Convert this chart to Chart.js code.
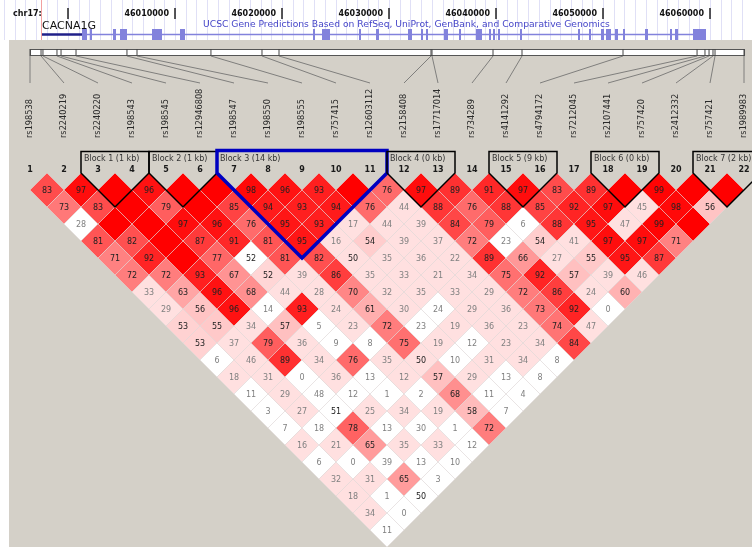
<!DOCTYPE html>
<html>
<head>
<meta charset="utf-8">
<title>CACNA1G LD plot</title>
<script src="https://cdn.jsdelivr.net/npm/chart.js@4.4.1/dist/chart.umd.min.js"></script>
<style>
  html, body { margin: 0; padding: 0; background: #fff; }
  #ld { display: block; }
</style>
</head>
<body>
<canvas id="ld" width="752" height="547"></canvas>
<script>
// ============================================================
// DATA
// ============================================================
const snpNames = ["rs198538", "rs2240219", "rs2240220", "rs198543", "rs198545", "rs12946808",
  "rs198547", "rs198550", "rs198555", "rs757415", "rs12603112", "rs2158408", "rs17717014",
  "rs734289", "rs4141292", "rs4794172", "rs7212045", "rs2107441", "rs757420", "rs2412332",
  "rs757421", "rs1989983"];

// chr17 positions (bp)
const snpPosBp = [45996450, 45997480, 45997660, 45998970, 45999350, 46000750, 46005510,
  46006450, 46013360, 46018130, 46019720, 46033925, 46034020, 46039720, 46042430, 46051870,
  46058790, 46059530, 46059910, 46060280, 46060470, 46063180];

// D' x 100, row i = SNP i against SNP i+1 .. 22
const ldRows = [
  [83, 73, 28, 81, 71, 72, 33, 29, 53, 53, 6, 18, 11, 3, 7, 16, 6, 32, 18, 34, 11],
  [97, 83, 100, 82, 92, 72, 63, 56, 55, 37, 46, 31, 29, 27, 18, 21, 0, 31, 1, 0],
  [100, 100, 100, 100, 100, 93, 96, 96, 34, 79, 89, 0, 48, 51, 78, 65, 39, 65, 50],
  [96, 79, 97, 87, 77, 67, 68, 14, 57, 36, 34, 36, 12, 25, 13, 35, 13, 3],
  [100, 100, 96, 91, 52, 52, 44, 93, 5, 9, 76, 13, 1, 34, 30, 33, 10],
  [100, 85, 76, 81, 81, 39, 28, 24, 23, 8, 35, 12, 2, 19, 1, 12],
  [98, 94, 95, 95, 82, 86, 70, 61, 72, 75, 50, 57, 68, 58, 72],
  [96, 93, 93, 16, 50, 35, 32, 30, 23, 19, 10, 29, 11, 7],
  [93, 94, 17, 54, 35, 33, 35, 24, 19, 12, 31, 13, 4],
  [100, 76, 44, 39, 36, 21, 33, 29, 36, 23, 34, 8],
  [76, 44, 39, 37, 22, 34, 29, 36, 23, 34, 8],
  [97, 88, 84, 72, 89, 75, 72, 73, 74, 84],
  [89, 76, 79, 23, 66, 92, 86, 92, 47],
  [91, 88, 6, 54, 27, 57, 24, 0],
  [97, 85, 88, 41, 55, 39, 60],
  [83, 92, 95, 97, 95, 46],
  [89, 97, 47, 97, 87],
  [100, 45, 99, 71],
  [99, 98, 100],
  [100, 56],
  [100]
];

// pairs with LOD < 2 (drawn white)
const lowLodPairs = [[1, 4], [5, 10], [13, 17], [14, 17], [4, 12], [1, 12], [5, 14], [5, 15],
  [6, 16], [9, 17], [8, 17], [9, 19], [8, 19], [3, 15], [5, 17], [9, 21], [14, 22], [11, 22],
  [10, 22], [1, 14], [1, 15], [1, 16], [3, 16], [3, 17], [2, 17], [4, 17], [1, 18], [2, 19],
  [5, 18], [6, 19], [8, 21], [9, 22], [8, 22], [4, 19], [5, 20], [6, 21], [6, 22], [3, 20],
  [4, 21], [5, 22], [4, 22], [2, 21], [3, 22], [2, 22], [1, 22]];

// haplotype blocks
const blockFirst = [3, 5, 7, 12, 15, 18, 21];
const blockLast = [4, 6, 11, 13, 16, 19, 22];
const blockKb = [1, 1, 14, 0, 9, 0, 2];
const selectedBlock = 2;

// ruler
const rulerTicksBp = [46000000, 46010000, 46020000, 46030000, 46040000, 46050000, 46060000];

// ============================================================
// HELPERS
// ============================================================
const FONT = '"DejaVu Sans", sans-serif';
const lowSet = new Set(lowLodPairs.map(p => p[0] + "-" + p[1]));

function bpToPx(bp) {
  return 68 + (bp - 46000000) * 107 / 10000;
}

function cellColor(v, low) {
  if (low) return "#ffffff";
  if (v < 50) return "rgb(255,224,224)";
  const g = Math.round(446 * (1 - v / 100));
  return `rgb(255,${g},${g})`;
}

// cell (i,j) -> x = i+j, y = j-i
const cells = [];
ldRows.forEach((row, r) => {
  const i = r + 1;
  row.forEach((v, c) => {
    const j = i + 1 + c;
    cells.push({ x: i + j, y: j - i, v: v, low: lowSet.has(i + "-" + j) });
  });
});

function cellHalf(chart) {
  const s = chart.scales.x;
  return Math.abs(s.getPixelForValue(1) - s.getPixelForValue(0));
}

// ============================================================
// HEADER (UCSC track + SNP map)
// ============================================================
function drawHeader(ctx) {
  // light grid
  ctx.strokeStyle = "#e0e0f6";
  ctx.lineWidth = 1;
  for (let bp = 45993000; bp < 46072000; bp += 1000) {
    const x = Math.round(bpToPx(bp)) + 0.5;
    ctx.beginPath(); ctx.moveTo(x, 0); ctx.lineTo(x, 40); ctx.stroke();
  }
  // pink marker
  ctx.strokeStyle = "#f2a0a0";
  ctx.beginPath(); ctx.moveTo(41.5, 0); ctx.lineTo(41.5, 40); ctx.stroke();

  // ruler
  ctx.fillStyle = "#111";
  ctx.font = "bold 8px " + FONT;
  ctx.textBaseline = "middle";
  ctx.textAlign = "left";
  ctx.fillText("chr17:", 13, 14);
  ctx.strokeStyle = "#111";
  ctx.lineWidth = 1.4;
  rulerTicksBp.forEach((bp, k) => {
    const x = bpToPx(bp);
    ctx.beginPath(); ctx.moveTo(x, 8); ctx.lineTo(x, 19); ctx.stroke();
    if (k > 0) {
      ctx.textAlign = "right";
      ctx.fillText(String(bp), x - 6, 14);
    }
  });

  // gene
  ctx.textAlign = "left";
  ctx.textBaseline = "alphabetic";
  ctx.font = "11px " + FONT;
  ctx.fillStyle = "#111";
  ctx.fillText("CACNA1G", 42, 29);
  ctx.font = "9.2px " + FONT;
  ctx.fillStyle = "#4646c8";
  ctx.fillText("UCSC Gene Predictions Based on RefSeq, UniProt, GenBank, and Comparative Genomics", 203, 27);

  ctx.strokeStyle = "#20208a";
  ctx.lineWidth = 2.5;
  ctx.beginPath(); ctx.moveTo(42, 34.5); ctx.lineTo(83, 34.5); ctx.stroke();
  ctx.strokeStyle = "#8282dc";
  ctx.lineWidth = 1.5;
  ctx.beginPath(); ctx.moveTo(83, 34.5); ctx.lineTo(700, 34.5); ctx.stroke();
  const exons = [[82, 87], [90, 92], [113, 116], [120, 127], [152, 162], [180, 185], [313, 315],
    [322, 330], [359, 361], [376, 379], [408, 412], [421, 423], [426, 428], [444, 448],
    [459, 461], [476, 482], [489, 491], [493, 495], [498, 500], [520, 522], [578, 580],
    [589, 591], [601, 604], [606, 611], [615, 618], [623, 625], [645, 648], [670, 672],
    [675, 678], [693, 706]];
  ctx.fillStyle = "#8282dc";
  exons.forEach(e => ctx.fillRect(e[0], 29, Math.max(1.5, e[1] - e[0]), 11));
}

function drawSnpMap(chart) {
  const ctx = chart.ctx;
  const xs = chart.scales.x;
  const x0 = bpToPx(snpPosBp[0]);
  const x1 = bpToPx(snpPosBp[snpPosBp.length - 1]);

  ctx.fillStyle = "#fff";
  ctx.fillRect(x0, 49, x1 - x0, 7);
  ctx.strokeStyle = "#555";
  ctx.lineWidth = 1;
  ctx.strokeRect(x0 + 0.5, 49.5, x1 - x0, 6);

  snpPosBp.forEach((bp, k) => {
    const px = bpToPx(bp);
    const lx = xs.getPixelForValue(2 * (k + 1));
    ctx.strokeStyle = "#444";
    ctx.beginPath(); ctx.moveTo(px, 49); ctx.lineTo(px, 56); ctx.stroke();
    ctx.strokeStyle = "#6a6a6a";
    ctx.lineWidth = 0.8;
    ctx.beginPath(); ctx.moveTo(px, 56); ctx.lineTo(lx, 83); ctx.stroke();
    ctx.lineWidth = 1;

    // name
    ctx.save();
    ctx.translate(lx, 138);
    ctx.rotate(-Math.PI / 2);
    ctx.fillStyle = "#2a2a2a";
    ctx.font = "8.2px " + FONT;
    ctx.textAlign = "left";
    ctx.textBaseline = "middle";
    ctx.fillText(snpNames[k], 0, 0);
    ctx.restore();

    // number
    ctx.fillStyle = "#1a1a1a";
    ctx.font = "bold 8px " + FONT;
    ctx.textAlign = "center";
    ctx.textBaseline = "middle";
    ctx.fillText(String(k + 1), lx, 170);
  });
}

// ============================================================
// PLUGIN
// ============================================================
const haploviewPlugin = {
  id: "haploview",
  beforeDraw(chart) {
    const ctx = chart.ctx;
    ctx.save();
    ctx.fillStyle = "#fff";
    ctx.fillRect(0, 0, chart.width, chart.height);
    ctx.fillStyle = "#d4d0c8";
    ctx.fillRect(9, 40, chart.width - 9, chart.height - 40);
    drawHeader(ctx);
    drawSnpMap(chart);
    ctx.restore();
  },
  afterDatasetsDraw(chart) {
    const ctx = chart.ctx;
    const meta = chart.getDatasetMeta(0);
    ctx.save();
    ctx.font = "8px " + FONT;
    ctx.textAlign = "center";
    ctx.textBaseline = "middle";
    meta.data.forEach((pt, idx) => {
      const c = cells[idx];
      if (c.v >= 100) return;
      ctx.fillStyle = c.v >= 50 ? "#222" : "#808080";
      ctx.fillText(String(c.v), pt.x, pt.y + 0.5);
    });
    ctx.restore();
  },
  afterDraw(chart) {
    const ctx = chart.ctx;
    const xs = chart.scales.x, ys = chart.scales.y;
    const top = ys.getPixelForValue(0);
    ctx.save();
    ctx.lineJoin = "miter";
    blockFirst.forEach((f, b) => {
      const l = blockLast[b];
      const xl = xs.getPixelForValue(2 * f - 1);
      const xr = xs.getPixelForValue(2 * l + 1);
      const xb = xs.getPixelForValue(f + l);
      const yb = ys.getPixelForValue(l - f + 1);
      const sel = b === selectedBlock;
      const yt = sel ? 150.5 : 151.5;
      ctx.strokeStyle = sel ? "#0000c0" : "#000";
      ctx.lineWidth = sel ? 3.5 : 1.5;
      ctx.beginPath();
      ctx.moveTo(xl, yt);
      ctx.lineTo(xr, yt);
      ctx.lineTo(xr, top);
      ctx.lineTo(xb, yb);
      ctx.lineTo(xl, top);
      ctx.closePath();
      ctx.stroke();

      ctx.fillStyle = "#333";
      ctx.font = "8px " + FONT;
      ctx.textAlign = "left";
      ctx.textBaseline = "middle";
      ctx.fillText(`Block ${b + 1} (${blockKb[b]} kb)`, xl + 3, 159);
    });
    ctx.restore();
  }
};

// ============================================================
// CHART
// ============================================================
new Chart(document.getElementById("ld"), {
  type: "scatter",
  data: {
    datasets: [{
      data: cells,
      clip: false,
      pointStyle: "rectRot",
      pointRadius: c => cellHalf(c.chart),
      pointHoverRadius: c => cellHalf(c.chart),
      pointBackgroundColor: c => {
        const d = cells[c.dataIndex];
        return d ? cellColor(d.v, d.low) : "#fff";
      },
      pointBorderColor: "rgba(226,218,218,0.9)",
      pointBorderWidth: 0.6
    }]
  },
  options: {
    responsive: false,
    animation: false,
    events: [],
    layout: { padding: { left: 30, right: 8, top: 173, bottom: 0 } },
    plugins: { legend: { display: false }, tooltip: { enabled: false } },
    scales: {
      x: { type: "linear", min: 2, max: 44, display: false },
      y: { type: "linear", min: 0, max: 22, reverse: true, display: false }
    }
  },
  plugins: [haploviewPlugin]
});
</script>
</body>
</html>
